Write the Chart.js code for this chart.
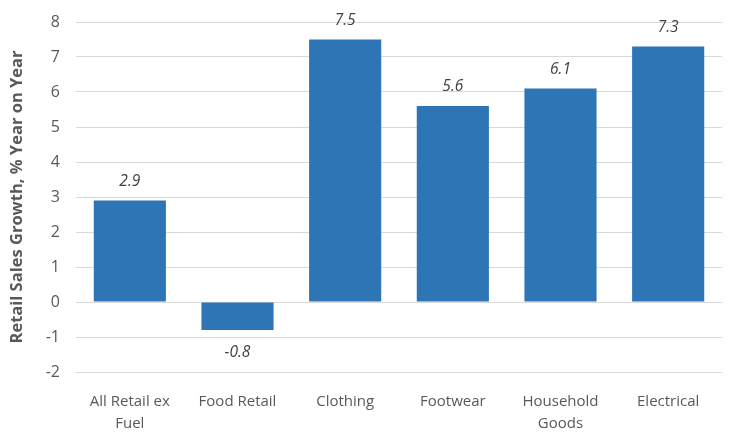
<!DOCTYPE html>
<html><head><meta charset="utf-8">
<script src="https://cdn.jsdelivr.net/npm/chart.js@4/dist/chart.umd.min.js"></script>
<style>html,body{margin:0;padding:0;background:#fff}#wrap{width:736px;height:441px}</style>
</head><body><div id="wrap"><canvas id="c" width="736" height="441"></canvas></div>
<script>
const categories = [["All Retail ex","Fuel"], "Food Retail", "Clothing", "Footwear", ["Household","Goods"], "Electrical"];
const growth = [2.9, -0.8, 7.5, 5.6, 6.1, 7.3];
const yTitle = "Retail Sales Growth, % Year on Year";
const FONT = "'Open Sans', 'Noto Sans', sans-serif";

const labelPlugin = {
  id: 'vlabels',
  afterDatasetsDraw(chart) {
    const ctx = chart.ctx;
    const meta = chart.getDatasetMeta(0);
    ctx.save();
    ctx.font = "italic 15.5px " + FONT;
    ctx.fillStyle = "#404040";
    ctx.textAlign = "center";
    ctx.textBaseline = "middle";
    meta.data.forEach((bar, i) => {
      const v = growth[i];
      const y = v >= 0 ? bar.y - 19 : bar.y + 23;
      ctx.fillText(v.toFixed(1), bar.x, y);
    });
    ctx.restore();
  }
};

new Chart(document.getElementById('c'), {
  type: 'bar',
  data: { labels: categories, datasets: [{ data: growth, backgroundColor: '#2E75B6', barPercentage: 0.67, categoryPercentage: 1.0 }] },
  options: {
    responsive: false, animation: false,
    layout: { padding: { top: 22, right: 14, left: 0, bottom: 0 } },
    plugins: { legend: { display: false }, tooltip: { enabled: false } },
    scales: {
      x: {
        grid: { display: false }, border: { display: false },
        ticks: { color: '#595959', font: { family: FONT, size: 15, lineHeight: 1.45 }, maxRotation: 0, autoSkip: false, padding: 11 },
        afterFit(s) { s.height = 69; s.paddingLeft = 0; s.paddingRight = 0; }
      },
      y: {
        min: -2, max: 8,
        ticks: { stepSize: 1, color: '#595959', font: { family: FONT, size: 16 }, padding: 16 },
        grid: { color: '#d9d9d9', drawTicks: false },
        border: { display: false },
        title: { display: true, text: yTitle, color: '#595959', font: { family: FONT, size: 16.5, weight: 'bold' }, padding: { top: 7, bottom: 0 } },
        afterFit(s) { s.width = 76; s.paddingTop = 0; s.paddingBottom = 0; }
      }
    }
  },
  plugins: [labelPlugin]
});
</script></body></html>
